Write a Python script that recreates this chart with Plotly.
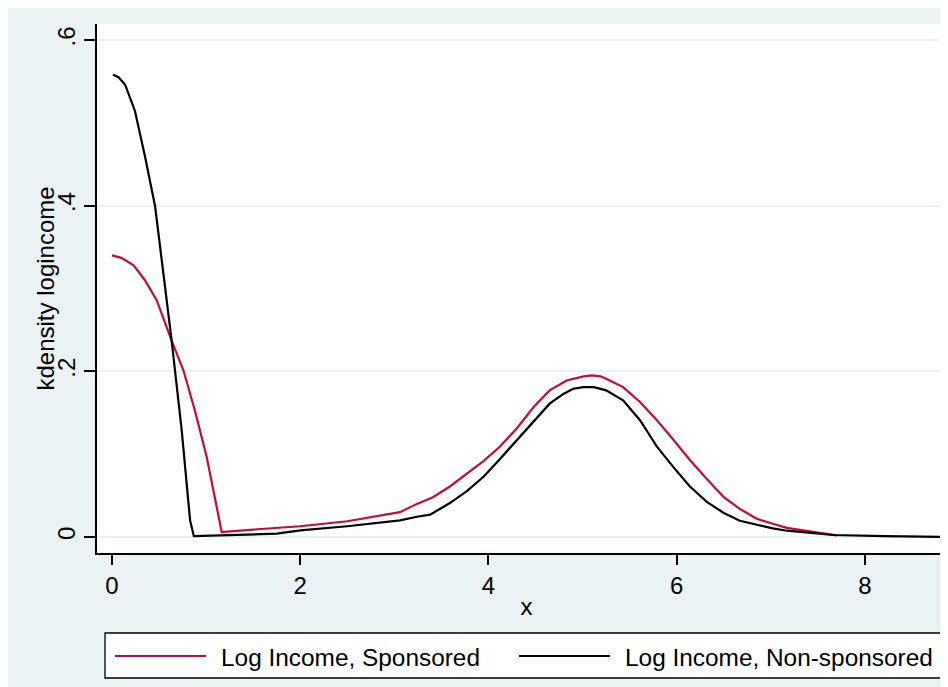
import plotly.graph_objects as go

# ---- data ----
sponsored_x = [0.0, 0.1, 0.23, 0.35, 0.475, 0.634, 0.76, 0.88, 1.006, 1.166,
               1.5, 2.0, 2.5, 3.06, 3.24, 3.41, 3.59, 3.77, 3.95, 4.12,
               4.30, 4.48, 4.56, 4.65, 4.83, 5.01, 5.10, 5.19, 5.25, 5.43,
               5.61, 5.79, 5.96, 6.14, 6.32, 6.50, 6.67, 6.85, 7.02, 7.17,
               7.52, 7.7]
sponsored_y = [0.340, 0.337, 0.328, 0.310, 0.286, 0.237, 0.201, 0.153, 0.097, 0.006,
               0.009, 0.013, 0.019, 0.030, 0.040, 0.048, 0.061, 0.077, 0.092, 0.109,
               0.131, 0.157, 0.167, 0.177, 0.189, 0.194, 0.195, 0.194, 0.191, 0.181,
               0.163, 0.141, 0.118, 0.093, 0.070, 0.048, 0.034, 0.022, 0.016, 0.011,
               0.005, 0.002]

nonsponsored_x = [0.01, 0.07, 0.14, 0.245, 0.35, 0.457, 0.49, 0.634, 0.74, 0.83,
                  0.87, 1.2, 1.75, 2.0, 2.5, 3.06, 3.24, 3.38, 3.59, 3.77,
                  3.95, 4.12, 4.30, 4.48, 4.65, 4.80, 4.90, 5.01, 5.12, 5.25,
                  5.43, 5.61, 5.79, 5.96, 6.14, 6.32, 6.50, 6.67, 6.85, 7.02,
                  7.17, 7.66, 8.2, 8.83, 9.0]
nonsponsored_y = [0.558, 0.555, 0.546, 0.514, 0.460, 0.400, 0.370, 0.237, 0.130, 0.020,
                  0.001, 0.002, 0.004, 0.008, 0.013, 0.020, 0.0245, 0.027, 0.041, 0.0555,
                  0.073, 0.094, 0.117, 0.139, 0.161, 0.173, 0.179, 0.181, 0.181, 0.177,
                  0.165, 0.141, 0.109, 0.085, 0.061, 0.0425, 0.029, 0.0196, 0.0145, 0.0105,
                  0.0076, 0.0024, 0.001, 0.0, 0.0]

x_ticks = [0, 2, 4, 6, 8]
x_tick_labels = ["0", "2", "4", "6", "8"]
y_ticks = [0, 0.2, 0.4, 0.6]
y_tick_labels = ["0", ".2", ".4", ".6"]

series_names = ["Log Income, Sponsored", "Log Income, Non-sponsored"]
series_colors = ["#C20A3C", "#000000"]
x_title = "x"
y_title = "kdensity logincome"

# ---- layout geometry (figure pixels; page adds an 8px body margin) ----
W, H = 948, 687
L, R, T, B = 89, 0, 16, 142
PW, PH = W - L - R, H - T - B
BG = "#EAF2F3"
FONT = "Arial, 'Liberation Sans', sans-serif"


def px(xp):
    return (xp - L) / PW


def py(yp):
    return (H - B - yp) / PH


fig = go.Figure()
fig.add_trace(go.Scatter(x=sponsored_x, y=sponsored_y, mode="lines",
                         name=series_names[0],
                         line=dict(color=series_colors[0], width=2.2)))
fig.add_trace(go.Scatter(x=nonsponsored_x, y=nonsponsored_y, mode="lines",
                         name=series_names[1],
                         line=dict(color=series_colors[1], width=2.2)))

shapes = [
    # legend box
    dict(type="rect", xref="paper", yref="paper", x0=px(97), x1=px(W + 20),
         y0=py(670), y1=py(625), fillcolor="white",
         line=dict(color="black", width=1.3), layer="above"),
    # legend sample lines
    dict(type="line", xref="paper", yref="paper", x0=px(107), x1=px(198),
         y0=py(648), y1=py(648), line=dict(color=series_colors[0], width=2.2), layer="above"),
    dict(type="line", xref="paper", yref="paper", x0=px(511), x1=px(602),
         y0=py(648), y1=py(648), line=dict(color=series_colors[1], width=2.2), layer="above"),
]

annotations = [
    dict(text=series_names[0], xref="paper", yref="paper", x=px(211), y=py(649),
         xanchor="left", yanchor="middle", showarrow=False,
         font=dict(family=FONT, size=24.4, color="black")),
    dict(text=series_names[1], xref="paper", yref="paper", x=px(615), y=py(649),
         xanchor="left", yanchor="middle", showarrow=False,
         font=dict(family=FONT, size=24.4, color="black")),
    # y-axis title
    dict(text=y_title, xref="paper", yref="paper", x=px(37), y=0.5,
         xanchor="center", yanchor="middle", textangle=-90, showarrow=False,
         font=dict(family=FONT, size=24, color="black")),
]

fig.update_layout(
    width=W, height=H,
    margin=dict(l=L, r=R, t=T, b=B, pad=0),
    paper_bgcolor=BG, plot_bgcolor="white",
    showlegend=False,
    font=dict(family=FONT, size=24, color="black"),
    shapes=shapes, annotations=annotations,
    xaxis=dict(range=[-0.159, 8.967], tickvals=x_ticks, ticktext=x_tick_labels,
               showgrid=False, zeroline=False, showline=True, linecolor="black",
               linewidth=1.5, ticks="outside", ticklen=10, tickwidth=1.5,
               tickcolor="black", tickfont=dict(size=24),
               title=dict(text=x_title, font=dict(size=24), standoff=1),
               automargin=False),
    yaxis=dict(range=[-0.0193, 0.6193], tickvals=y_ticks, ticktext=y_tick_labels,
               tickangle=-90, showgrid=True, gridcolor=BG, gridwidth=2,
               zeroline=False, showline=True, linecolor="black", linewidth=1.5,
               ticks="outside", ticklen=11, tickwidth=1.5, tickcolor="black",
               tickfont=dict(size=24),
               automargin=False),
)

fig.write_html("out.html")
